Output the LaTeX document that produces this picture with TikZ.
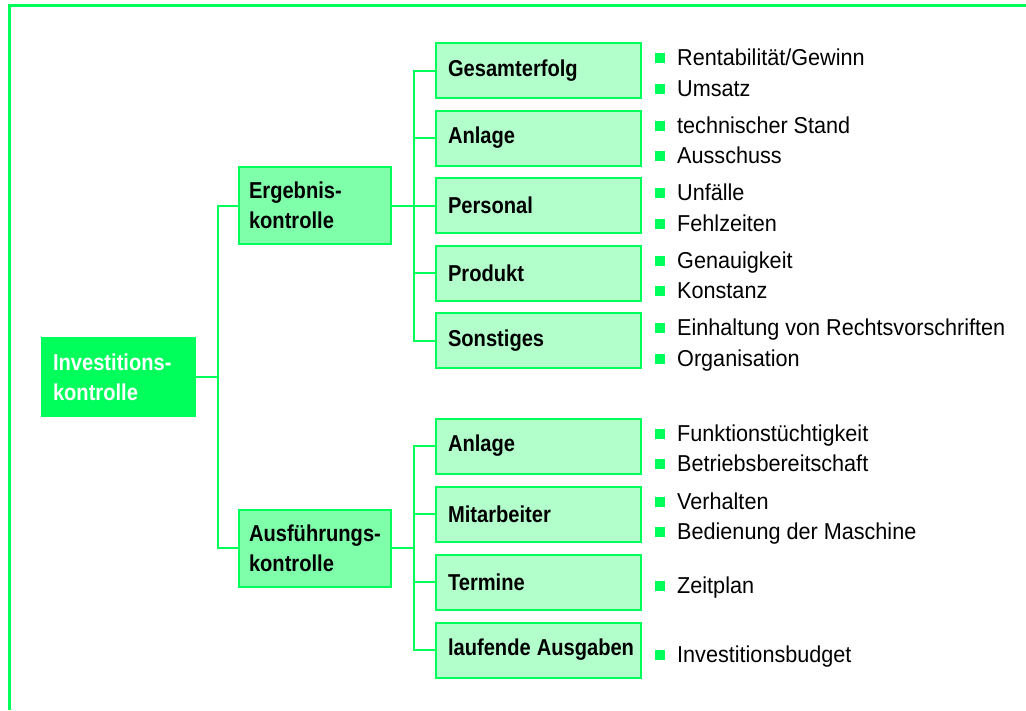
\documentclass[tikz,border=0pt]{standalone}
\usepackage{fontspec}
\setmainfont{Liberation Sans}[FakeStretch=0.94]
\newfontfamily\bfnt{Liberation Sans}[FakeStretch=0.875]
\definecolor{gr}{RGB}{0,255,90}
\definecolor{gmid}{RGB}{128,255,170}
\definecolor{glight}{RGB}{178,255,204}
\newcommand\bul{\textcolor{gr}{\rule[2.5pt]{10pt}{10pt}}\hspace{12pt}}
\begin{document}
\begin{tikzpicture}[x=1pt,y=-1pt,
  boxbase/.style={draw=gr, line width=2pt, inner ysep=0pt, align=left,
    font=\bfnt\bfseries\fontsize{23}{30}\selectfont},
  lvlone/.style={boxbase, fill=gr, text=white, minimum width=153, minimum height=78, text width=131, inner xsep=11},
  lvltwo/.style={boxbase, fill=gmid, minimum width=152, minimum height=77, text width=132, inner xsep=10},
  lvlthree/.style={boxbase, fill=glight, minimum width=205, minimum height=55, text width=181, inner xsep=12},
  item/.style={anchor=base west, inner sep=0pt, font=\fontsize{23}{30}\selectfont},
  conn/.style={draw=gr, line width=2pt}]
\useasboundingbox (0,0) rectangle (1026,710);
% frame
\draw[gr, line width=3.5pt] (9.5,710) -- (9.5,5.5) -- (1026,5.5);
% nodes
\node[lvlone] (root) at (118.5,377) {Investitions-\\kontrolle};
\node[lvltwo] (erg) at (315,205.5) {Ergebnis-\\kontrolle};
\node[lvltwo] (aus) at (315,548) {Ausführungs-\\kontrolle};
\node[lvlthree] (u1) at (538.5,70.5) {Gesamterfolg};
\node[lvlthree] (u2) at (538.5,138) {Anlage};
\node[lvlthree] (u3) at (538.5,205.5) {Personal};
\node[lvlthree] (u4) at (538.5,273) {Produkt};
\node[lvlthree] (u5) at (538.5,340.5) {Sonstiges};
\node[lvlthree] (l1) at (538.5,446) {Anlage};
\node[lvlthree] (l2) at (538.5,514) {Mitarbeiter};
\node[lvlthree] (l3) at (538.5,582) {Termine};
\node[lvlthree] (l4) at (538.5,650) {\mbox{laufende\hspace{6pt}Ausgaben}};
% connectors
\draw[conn] (root.east) -- ++(22,0) |- (erg.west);
\draw[conn] (root.east) -- ++(22,0) |- (aus.west);
\foreach \n in {u1,u2,u3,u4,u5}{\draw[conn] (erg.east) -- ++(22,0) |- (\n.west);}
\foreach \n in {l1,l2,l3,l4}{\draw[conn] (aus.east) -- ++(22,0) |- (\n.west);}
% items
\node[item] (i11) at (655,65.5) {\bul Rentabilität/Gewinn};
\node[item] (i12) at (655,96) {\bul Umsatz};
\node[item] (i21) at (655,133) {\bul technischer Stand};
\node[item] (i22) at (655,163.5) {\bul Ausschuss};
\node[item] (i31) at (655,200.5) {\bul Unfälle};
\node[item] (i32) at (655,231) {\bul Fehlzeiten};
\node[item] (i41) at (655,268) {\bul Genauigkeit};
\node[item] (i42) at (655,298.5) {\bul Konstanz};
\node[item] (i51) at (655,335.5) {\bul Einhaltung von Rechtsvorschriften};
\node[item] (i52) at (655,366) {\bul Organisation};
\node[item] (j11) at (655,441) {\bul Funktionstüchtigkeit};
\node[item] (j12) at (655,471.5) {\bul Betriebsbereitschaft};
\node[item] (j21) at (655,509) {\bul Verhalten};
\node[item] (j22) at (655,539.5) {\bul Bedienung der Maschine};
\node[item] (j31) at (655,593) {\bul Zeitplan};
\node[item] (j41) at (655,662) {\bul Investitionsbudget};
\end{tikzpicture}
\end{document}
